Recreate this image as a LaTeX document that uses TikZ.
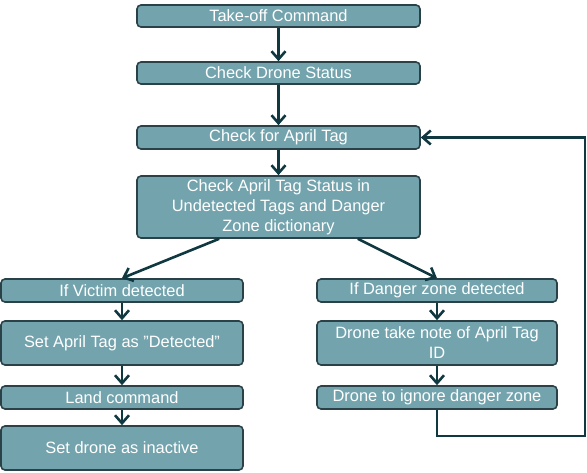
\documentclass[tikz,border=0pt]{standalone}
\usepackage{fontspec}
\setmainfont{Liberation Sans}
\usetikzlibrary{arrows.meta}
\definecolor{boxfill}{HTML}{73A4AE}
\definecolor{boxline}{HTML}{2A4148}
\definecolor{flowline}{HTML}{0F3840}
\tikzset{stepbox/.style={draw=boxline, fill=boxfill, line width=1.6pt, rounded corners=4pt,
      text=white, align=center, inner sep=1pt, font=\fontsize{16.4}{20}\selectfont}}
\tikzset{flow/.style={draw=flowline, line width=2.6pt,
      -{Straight Barb[length=8pt,width=14pt,line width=2.6pt]}}}

\begin{document}
\begin{tikzpicture}[x=1pt, y=1pt]
		\useasboundingbox (0,0) rectangle (587,472);
		% main column
		\node[stepbox, minimum width=283pt, minimum height=22pt] (takeoff) at (278.5,456) {Take-off Command};
		\node[stepbox, minimum width=283pt, minimum height=22pt] (status) at (278.5,399) {Check Drone Status};
		\node[stepbox, minimum width=283pt, minimum height=23pt] (tag) at (278.5,334.5) {Check for April Tag};
		\node[stepbox, minimum width=283pt, minimum height=62pt] (lookup) at (278.5,265) {Check April Tag Status in\\Undetected Tags and Danger\\Zone dictionary};
		% victim branch
		\node[stepbox, minimum width=242pt, minimum height=23pt] (victim) at (122,181.5) {If Victim detected};
		\node[stepbox, minimum width=242pt, minimum height=44pt] (mark) at (122,129) {Set April Tag as ”Detected”};
		\node[stepbox, minimum width=242pt, minimum height=23pt] (land) at (122,74.5) {Land command};
		\node[stepbox, minimum width=242pt, minimum height=44pt] (inactive) at (122,24) {Set drone as inactive};
		% danger branch
		\node[stepbox, minimum width=240pt, minimum height=23pt] (danger) at (437,181.5) {If Danger zone detected};
		\node[stepbox, minimum width=240pt, minimum height=44pt] (note) at (437,129) {Drone take note of April Tag\\ID};
		\node[stepbox, minimum width=240pt, minimum height=23pt] (ignore) at (437,74.5) {Drone to ignore danger zone};
		\coordinate (corner) at (585,36);
		% connectors
		\draw[flow] (takeoff) -- (status);
		\draw[flow] (status) -- (tag);
		\draw[flow] (tag) -- (lookup);
		\draw[flow] (lookup.south west) ++(83,0) -- (victim.north);
		\draw[flow] (lookup.south east) ++(-63,0) -- (danger.north);
		\draw[flow] (victim) -- (mark);
		\draw[flow] (mark) -- (land);
		\draw[flow] (land) -- (inactive);
		\draw[flow] (danger) -- (note);
		\draw[flow] (note) -- (ignore);
		\draw[flow, line width=2.2pt] (ignore.south) |- (corner) |- (tag.east);
		\end{tikzpicture}
\end{document}
